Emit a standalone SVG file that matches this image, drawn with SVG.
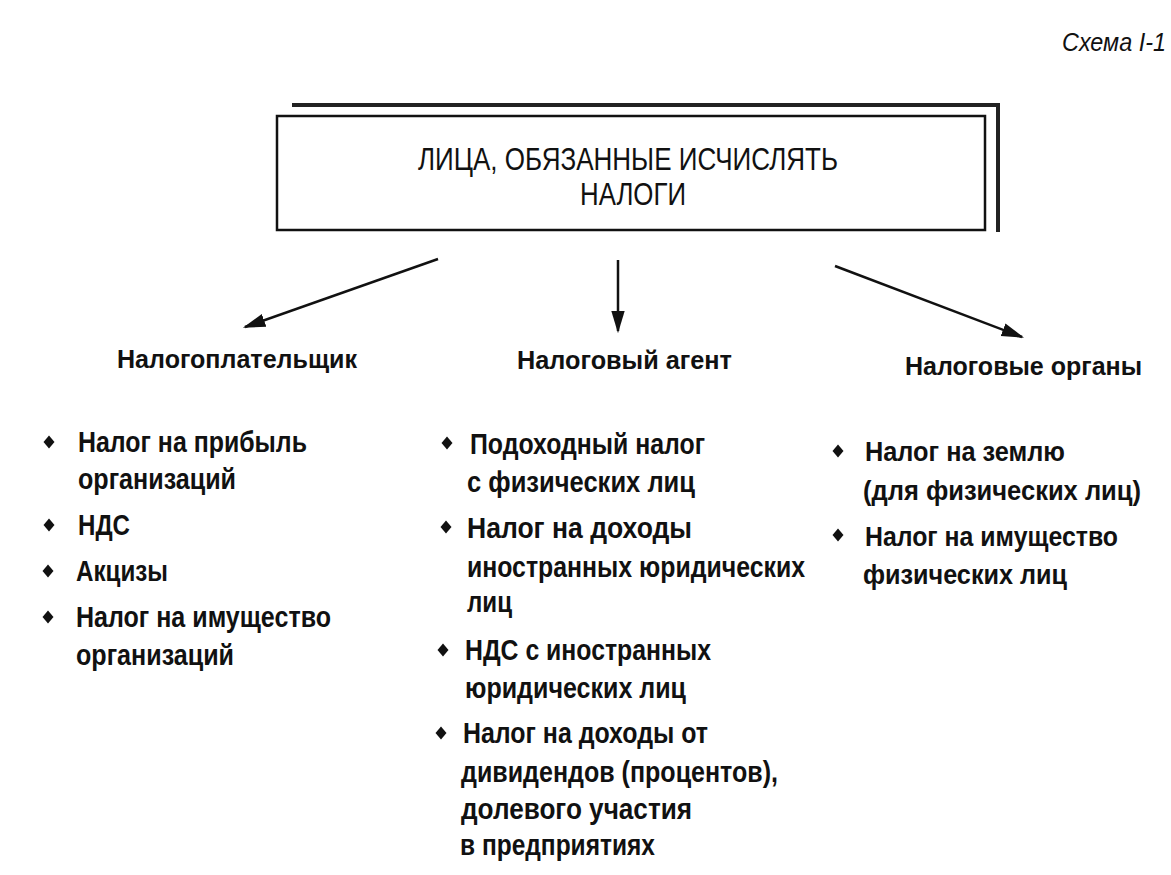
<svg xmlns="http://www.w3.org/2000/svg" width="1171" height="875" viewBox="0 0 1171 875">
<style>
text{font-family:"Liberation Sans Narrow","Liberation Sans",Arial,sans-serif;fill:#111;}
.t{font-size:31px;}
.h{font-size:26px;font-weight:bold;}
.i{font-size:29px;font-weight:bold;}
.r{font-size:27px;}
.c{font-size:25px;font-style:italic;}
.ln{stroke:#111;stroke-width:2.5;fill:none;}
.b{fill:#111;}
</style>
<defs>
<marker id="ah" viewBox="0 0 10 10" refX="9" refY="5" markerWidth="9" markerHeight="9" markerUnits="strokeWidth" orient="auto">
<path d="M0,2 L10,5 L0,8 Z" fill="#111"/>
</marker>
<path id="d" d="M0,-6.5 L5.5,0 L0,6.5 L-5.5,0 Z"/>
</defs>
<rect width="1171" height="875" fill="#fff"/>
<text class="c" x="1062" y="51" textLength="104" lengthAdjust="spacingAndGlyphs">Схема I-1</text>
<g id="root">
<polyline points="292,105 998,105 998,232" stroke="#222" stroke-width="4" fill="none"/>
<rect x="277" y="116" width="708" height="114" fill="#fff" stroke="#111" stroke-width="2.5"/>
<text class="t" x="418" y="170" textLength="420" lengthAdjust="spacingAndGlyphs">ЛИЦА, ОБЯЗАННЫЕ ИСЧИСЛЯТЬ</text>
<text class="t" x="580" y="205" textLength="106" lengthAdjust="spacingAndGlyphs">НАЛОГИ</text>
</g>
<g id="connectors">
<line class="ln" x1="438" y1="259" x2="245" y2="327" marker-end="url(#ah)"/>
<line class="ln" x1="618" y1="260" x2="618" y2="331" marker-end="url(#ah)"/>
<line class="ln" x1="835" y1="266" x2="1022" y2="337" marker-end="url(#ah)"/>
</g>
<g id="payer">
<text class="h" x="117" y="368" textLength="240" lengthAdjust="spacingAndGlyphs">Налогоплательщик</text>
<use href="#d" x="49" y="442" class="b"/>
<use href="#d" x="49" y="525" class="b"/>
<use href="#d" x="48" y="571" class="b"/>
<use href="#d" x="48" y="617" class="b"/>
<text class="i" x="78" y="452" textLength="229" lengthAdjust="spacingAndGlyphs">Налог на прибыль</text>
<text class="i" x="78" y="489" textLength="158" lengthAdjust="spacingAndGlyphs">организаций</text>
<text class="i" x="78" y="535" textLength="52" lengthAdjust="spacingAndGlyphs">НДС</text>
<text class="i" x="76" y="581" textLength="92" lengthAdjust="spacingAndGlyphs">Акцизы</text>
<text class="i" x="76" y="627" textLength="255" lengthAdjust="spacingAndGlyphs">Налог на имущество</text>
<text class="i" x="76" y="665" textLength="158" lengthAdjust="spacingAndGlyphs">организаций</text>
</g>
<g id="agent">
<text class="h" x="517" y="369" textLength="215" lengthAdjust="spacingAndGlyphs">Налоговый агент</text>
<use href="#d" x="447" y="443" class="b"/>
<use href="#d" x="446" y="527" class="b"/>
<use href="#d" x="443" y="650" class="b"/>
<use href="#d" x="441" y="733" class="b"/>
<text class="i" x="470" y="454" textLength="235" lengthAdjust="spacingAndGlyphs">Подоходный налог</text>
<text class="i" x="467" y="492" textLength="228" lengthAdjust="spacingAndGlyphs">с физических лиц</text>
<text class="i" x="467" y="538" textLength="225" lengthAdjust="spacingAndGlyphs">Налог на доходы</text>
<text class="i" x="467" y="577" textLength="338" lengthAdjust="spacingAndGlyphs">иностранных юридических</text>
<text class="i" x="467" y="612" textLength="45" lengthAdjust="spacingAndGlyphs">лиц</text>
<text class="i" x="465" y="660" textLength="246" lengthAdjust="spacingAndGlyphs">НДС с иностранных</text>
<text class="i" x="465" y="698" textLength="221" lengthAdjust="spacingAndGlyphs">юридических лиц</text>
<text class="i" x="463" y="743" textLength="245" lengthAdjust="spacingAndGlyphs">Налог на доходы от</text>
<text class="i" x="461" y="782" textLength="317" lengthAdjust="spacingAndGlyphs">дивидендов (процентов),</text>
<text class="i" x="461" y="819" textLength="231" lengthAdjust="spacingAndGlyphs">долевого участия</text>
<text class="i" x="460" y="855" textLength="195" lengthAdjust="spacingAndGlyphs">в предприятиях</text>
</g>
<g id="authority">
<text class="h" x="905" y="375" textLength="237" lengthAdjust="spacingAndGlyphs">Налоговые органы</text>
<use href="#d" x="838" y="451" class="b"/>
<use href="#d" x="838" y="535" class="b"/>
<text class="i r" x="865" y="461" textLength="200" lengthAdjust="spacingAndGlyphs">Налог на землю</text>
<text class="i r" x="863" y="500" textLength="278" lengthAdjust="spacingAndGlyphs">(для физических лиц)</text>
<text class="i r" x="865" y="546" textLength="253" lengthAdjust="spacingAndGlyphs">Налог на имущество</text>
<text class="i r" x="863" y="584" textLength="204" lengthAdjust="spacingAndGlyphs">физических лиц</text>
</g>
</svg>
